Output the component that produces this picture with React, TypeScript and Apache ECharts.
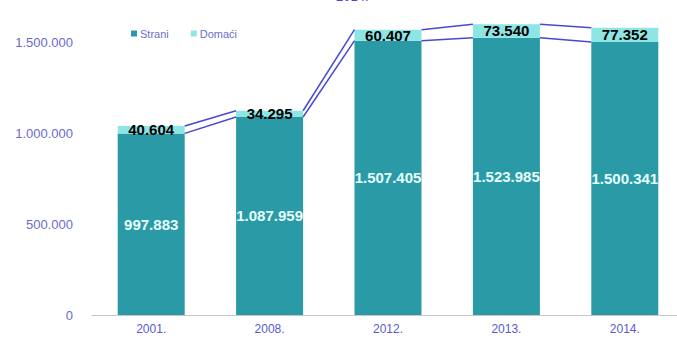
import React, { useEffect, useRef } from "react";
import * as echarts from "echarts";

const categories = ["2001.", "2008.", "2012.", "2013.", "2014."];
const strani = [997883, 1087959, 1507405, 1523985, 1500341];
const domaci = [40604, 34295, 60407, 73540, 77352];
const yTicks = [0, 500000, 1000000, 1500000];
const yMax = 1700000;
const titleText = "2014.";

const fmt = (v: number) => String(Math.round(v)).replace(/\B(?=(\d{3})+(?!\d))/g, ".");

const BAR_RATIO = 0.566;

export default function App() {
  const ref = useRef<HTMLDivElement>(null);
  useEffect(() => {
    if (!ref.current) return;
    const chart = echarts.init(ref.current, null, { renderer: "svg" });
    const totals = strani.map((s, i) => s + domaci[i]);
    const connData = categories.slice(0, -1).map((_, i) => [i, strani[i], totals[i], strani[i + 1], totals[i + 1]]);
    const font = "'Liberation Sans', Arial, sans-serif";
    chart.setOption({
      animation: false,
      backgroundColor: "#ffffff",
      textStyle: { fontFamily: font },
      graphic: [
        {
          type: "text",
          left: 336,
          top: -10,
          style: { text: titleText, fontSize: 13, fill: "#4a4ad0", fontFamily: font },
        },
      ],
      legend: {
        left: 126,
        top: 23,
        itemWidth: 6,
        itemHeight: 6,
        itemGap: 22,
        icon: "rect",
        textStyle: { fontSize: 11, color: "#6f6fc8", fontFamily: font, padding: [0, 0, 0, -2] },
        data: ["Strani", "Domaći"],
      },
      grid: { left: 92, right: -7, top: 5.6, bottom: 32, outerBoundsMode: "none" },
      xAxis: {
        type: "category",
        data: categories,
        axisLine: { lineStyle: { color: "#c8c8c8", width: 1 } },
        axisTick: { show: false },
        axisLabel: { color: "#5a5ad0", fontSize: 12, margin: 8 },
      },
      yAxis: {
        type: "value",
        min: yTicks[0],
        max: yMax,
        interval: yTicks[1] - yTicks[0],
        splitLine: { show: false },
        axisLine: { show: false },
        axisTick: { show: false },
        axisLabel: {
          color: "#6a6ad0",
          fontSize: 13,
          margin: 19,
          formatter: (v: number) => (yTicks.indexOf(v) >= 0 ? fmt(v) : ""),
        },
      },
      series: [
        {
          name: "Strani",
          type: "bar",
          stack: "total",
          barWidth: BAR_RATIO * 100 + "%",
          data: strani,
          itemStyle: { color: "#2a9ba6" },
          label: {
            show: true,
            position: "inside",
            color: "#e6ffff",
            fontWeight: "bold",
            fontSize: 15,
            formatter: (p: any) => fmt(p.value),
          },
        },
        {
          name: "Domaći",
          type: "bar",
          stack: "total",
          data: domaci,
          itemStyle: { color: "#8ee6e4" },
          label: {
            show: true,
            position: "inside",
            color: "#000000",
            fontWeight: "bold",
            fontSize: 15,
            formatter: (p: any) => fmt(p.value),
          },
        },
        {
          type: "custom",
          name: "lines",
          silent: true,
          z: 5,
          encode: { x: 0, y: [1, 2, 3, 4] },
          data: connData,
          renderItem: (params: any, api: any) => {
            const i = api.value(0);
            const half = (api.size([1, 0])[0] * BAR_RATIO) / 2;
            const a1 = api.coord([i, api.value(1)]);
            const a2 = api.coord([i, api.value(2)]);
            const b1 = api.coord([i + 1, api.value(3)]);
            const b2 = api.coord([i + 1, api.value(4)]);
            const style = { stroke: "#4848d0", lineWidth: 1.5 };
            return {
              type: "group",
              children: [
                { type: "line", shape: { x1: a1[0] + half, y1: a1[1], x2: b1[0] - half, y2: b1[1] }, style },
                { type: "line", shape: { x1: a2[0] + half, y1: a2[1], x2: b2[0] - half, y2: b2[1] }, style },
              ],
            };
          },
        },
      ],
    });
    return () => chart.dispose();
  }, []);
  return <div ref={ref} style={{ width: 677, height: 347, position: "absolute", left: 0, top: 0 }} />;
}
